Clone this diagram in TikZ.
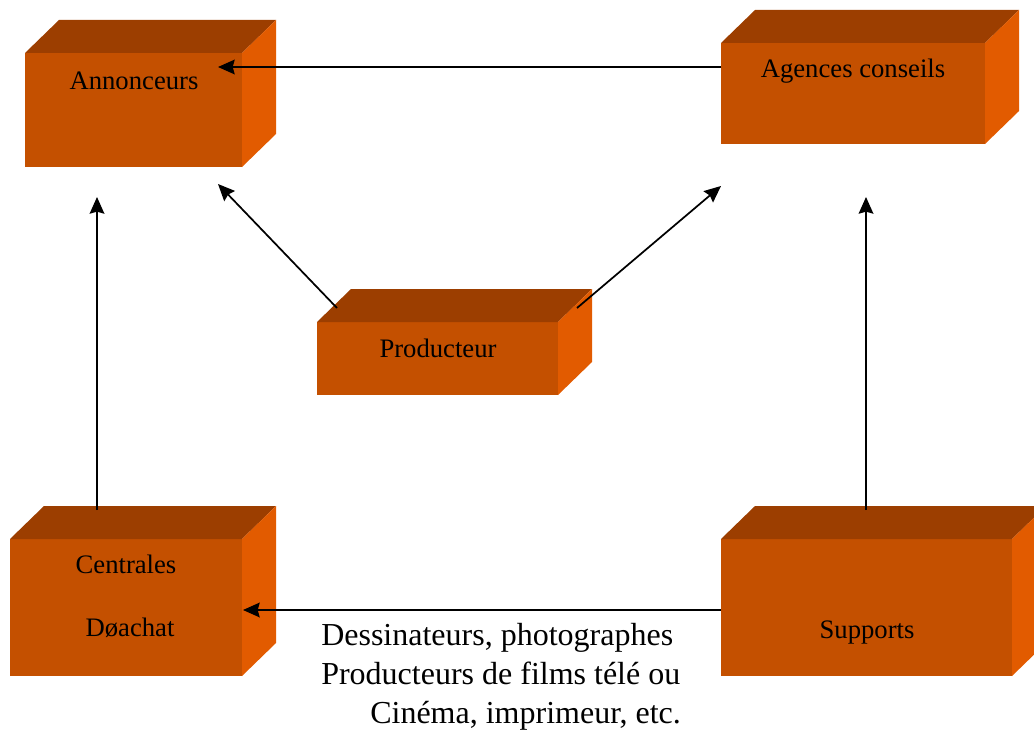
\documentclass[tikz,border=0pt]{standalone}
\usepackage{fontspec}
\setmainfont{Liberation Serif}
\usetikzlibrary{calc,arrows.meta}
\definecolor{frontc}{RGB}{196,80,0}
\definecolor{topc}{RGB}{156,62,0}
\definecolor{sidec}{RGB}{226,91,0}
\tikzset{
  front/.style={fill=frontc, draw=none, inner sep=0pt, outer sep=0pt, anchor=north west},
  boxtext/.style={font=\fontsize{20}{24}\selectfont, anchor=base, inner sep=0pt},
  notetext/.style={font=\fontsize{24}{29}\selectfont, anchor=base west, inner sep=0pt},
  arr/.style={line width=1.3pt, -{Stealth[length=12.5pt, width=11pt, inset=1.5pt]}}
}
% top and right faces of a box whose front face is node #1
\def\boxsides#1{%
  \fill[topc] (#1.north west) -- ($(#1.north west)+(34,-33)$) -- ($(#1.north east)+(34,-33)$) -- (#1.north east) -- cycle;
  \fill[sidec] (#1.north east) -- ($(#1.north east)+(34,-33)$) -- ($(#1.south east)+(34,-33)$) -- (#1.south east) -- cycle;
}
\begin{document}
\begin{tikzpicture}[x=0.75pt, y=-0.75pt]
\useasboundingbox (0,0) rectangle (1034,731);
\clip (0,0) rectangle (1034,731);

% front faces
\node[front, minimum width=162.75pt, minimum height=85.5pt] (ann) at (25,53) {};
\node[front, minimum width=198pt, minimum height=75.75pt] (ag) at (721,43) {};
\node[front, minimum width=180.75pt, minimum height=54.75pt] (prod) at (317,322) {};
\node[front, minimum width=174pt, minimum height=102.75pt] (cen) at (10,539) {};
\node[front, minimum width=218.25pt, minimum height=102.75pt] (sup) at (721,539) {};
\boxsides{ann}
\boxsides{ag}
\boxsides{prod}
\boxsides{cen}
\boxsides{sup}

% labels
\node[boxtext] (annT) at (134,90) {Annonceurs};
\node[boxtext] (agT) at (853,78) {Agences conseils};
\node[boxtext] (prodT) at (438,357) {Producteur};
\node[boxtext] (cenT1) at (126,573) {Centrales};
\node[boxtext] (cenT2) at (130,636) {Døachat};
\node[boxtext] (supT) at (867,638) {Supports};

\node[notetext] (note1) at (321,645) {Dessinateurs, photographes};
\node[notetext] (note2) at (321,684) {Producteurs de films télé ou};
\node[notetext] (note3) at (370,723) {Cinéma, imprimeur, etc.};

% flows
\draw[arr] ($(ag.north west)+(0,24)$) -- ($(ann.north east)+(-24,14)$);
\draw[arr] ($(cen.north west)+(87,-29)$) -- ($(ann.south west)+(72,30)$);
\draw[arr] ($(sup.north west)+(145,-29)$) -- ($(ag.south west)+(145,53)$);
\draw[arr] ($(prod.north west)+(20,-14)$) -- ($(ann.south east)+(-24,17)$);
\draw[arr] ($(prod.north east)+(19,-14)$) -- ($(ag.south west)+(0,42)$);
\draw[arr] ($(sup.west)+(0,2.5)$) -- ($(cen.east)+(1,2.5)$);
\end{tikzpicture}
\end{document}
